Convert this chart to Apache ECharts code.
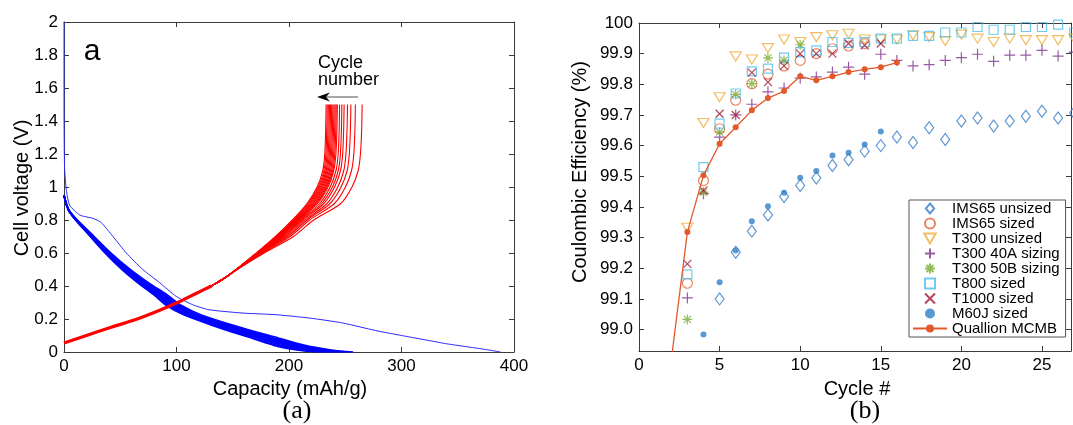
<!DOCTYPE html>
<html><head><meta charset="utf-8">
<script src="https://cdn.jsdelivr.net/npm/echarts@6/dist/echarts.min.js"></script>
<style>html,body{margin:0;padding:0;background:#fff}#c{width:1073px;height:425px}</style>
</head><body><div id="c"></div>
<script>
// ---------------- Panel (a): voltage profiles ----------------
// first cycle discharge [capacity mAh/g, voltage V]
const firstDischarge = [[0,2.0],[0,1.5],[0.5,1.12],[2.1,0.98],[5,0.89],[14,0.83],[25.7,0.81],[33,0.785],[43.5,0.70],[55.4,0.60],[70,0.50],[85,0.42],[99.7,0.337],[114.5,0.286],[129,0.256],[159,0.236],[188.5,0.226],[218,0.206],[247.6,0.176],[277,0.13],[300,0.10],[320,0.075],[340,0.05],[360,0.03],[375,0.015],[388,0]];
// later discharge cycles: voltage levels and capacity at each level per cycle
const dischargeV = [0.95,0.85,0.7,0.6,0.5,0.42,0.35,0.28,0.225,0.155,0.095,0.04,0.012,0];
const dischargeCycleCaps = [
  [0,4.7,23.3,36.4,51.3,65.3,79.3,91.5,106.4,134.4,161.5,186.7,207.2,224],
  [0,4.8,23.8,37.1,52.3,66.5,80.8,93.1,108.3,136.8,164.4,190,210.9,228],
  [0,4.8,24.2,37.7,53.2,67.7,82.2,94.7,110.2,139.2,167.2,193.3,214.6,232],
  [0,4.9,24.6,38.4,54.1,68.8,83.6,96.4,112.1,141.6,170.1,196.7,218.3,236],
  [0,5,25,39,55,70,85,98,114,144,173,200,222,240],
  [0,5.1,25.4,39.7,55.9,71.2,86.4,99.6,115.9,146.4,175.9,203.3,225.7,244],
  [0,5.2,25.8,40.3,56.8,72.3,87.8,101.3,117.8,148.8,178.8,206.7,229.4,248],
  [0,5.3,26.3,41,57.8,73.5,89.3,102.9,119.7,151.2,181.7,210,233.1,252],
  [0,5.4,26.8,41.8,58.9,75,91,104.9,122.1,154.2,185.3,214.2,237.7,257]
];
// charge cycles: common lower part, then per-cycle upper part
const chargeLowV = [0.054,0.1,0.15,0.2,0.25,0.3,0.35,0.4];
const chargeLowCap = [0,20,42,65,84,101,116,131];
const chargeHighV = [0.45,0.5,0.6,0.7,0.8,0.9,1.0,1.1,1.2,1.35,1.5];
const chargeCycleHighCaps = [
  [143,153,171,188,203,216,225,230,231.8,232.6,233],
  [143,153,171.2,188.5,203.6,216.9,226,231,232.8,233.6,234],
  [143,153.1,171.4,189,204.2,217.9,226.9,232,233.8,234.6,235],
  [143,153.1,171.7,189.5,204.8,218.8,227.9,233,234.8,235.6,236],
  [143.1,153.1,171.9,190,205.4,219.8,228.9,233.9,235.8,236.6,237],
  [143.1,153.2,172.1,190.5,206,220.7,229.8,234.9,236.8,237.6,238],
  [143.1,153.2,172.3,191,206.6,221.6,230.8,235.9,237.7,238.6,239],
  [143.1,153.2,172.5,191.5,207.2,222.6,231.8,236.9,238.7,239.6,240],
  [143.1,153.3,172.8,192,207.8,223.5,232.8,237.9,239.7,240.6,241],
  [143.1,153.3,173,192.5,208.3,224.4,233.7,238.9,240.7,241.6,242],
  [143.2,153.3,173.2,193,208.9,225.4,234.7,239.8,241.7,242.6,243],
  [143.2,153.4,173.6,194,210.1,227.3,236.6,241.8,243.7,244.6,245],
  [143.2,153.4,174.1,195,211.3,229.1,238.6,243.8,245.7,246.6,247],
  [143.3,153.5,174.5,196,212.5,231,240.5,245.8,247.7,248.6,249],
  [143.3,153.6,175.2,197.5,214.3,233.8,243.4,248.7,250.6,251.6,252],
  [143.3,153.7,175.8,199,216.1,236.6,246.3,251.7,253.6,254.6,255],
  [143.4,153.8,176.7,201,218.4,240.4,250.2,255.6,257.6,258.6,259],
  [143.5,154,178,204,222,246,256,261.5,263.5,264.6,265]
];
const capTicks = [0,100,200,300,400];
const voltTicks = [0,0.2,0.4,0.6,0.8,1,1.2,1.4,1.6,1.8,2];

// ---------------- Panel (b): coulombic efficiency ----------------
const ims65UnsizedCycles = [5,6,7,8,9,10,11,12,13,14,15,16,17,18,19,20,21,22,23,24,25,26,27];
const ims65Unsized = [99.10,99.252,99.321,99.374,99.434,99.47,99.494,99.535,99.554,99.582,99.60,99.628,99.61,99.658,99.62,99.68,99.69,99.664,99.68,99.696,99.712,99.69,99.707];
const ims65SizedCycles = [3,4,5,6,7,8,9,10,11,12,13,14];
const ims65Sized = [99.151,99.486,99.655,99.748,99.802,99.833,99.86,99.878,99.90,99.916,99.925,99.933];
const t300UnsizedCycles = [3,4,5,6,7,8,9,10,11,12,13,14,15,16,17,18,19,20,21,22,23,24,25,26,27];
const t300Unsized = [99.332,99.674,99.758,99.891,99.881,99.918,99.946,99.938,99.954,99.96,99.965,99.946,99.946,99.946,99.96,99.954,99.941,99.962,99.949,99.938,99.949,99.944,99.944,99.944,99.949];
const t300_40ACycles = [3,4,5,6,7,8,9,10,11,12,13,14,15,16,17,18,19,20,21,22,23,24,25,26,27];
const t300_40A = [99.103,99.443,99.628,99.70,99.735,99.775,99.788,99.82,99.824,99.84,99.856,99.833,99.898,99.878,99.86,99.864,99.878,99.887,99.898,99.875,99.895,99.895,99.911,99.892,99.905];
const t300_50BCycles = [3,4,5,6,7,8,9,10];
const t300_50B = [99.033,99.448,99.644,99.767,99.802,99.886,99.878,99.929];
const t800Cycles = [3,4,5,6,7,8,9,10,11,12,13,14,15,16,17,18,19,20,21,22,23,24,25,26,27];
const t800Sized = [99.18,99.53,99.672,99.77,99.842,99.851,99.887,99.905,99.911,99.938,99.935,99.938,99.949,99.949,99.958,99.958,99.969,99.969,99.987,99.978,99.978,99.987,99.987,99.995,99.969];
const t1000Cycles = [3,4,5,6,7,8,9,10,11,12,13,14,15];
const t1000Sized = [99.214,99.454,99.704,99.70,99.838,99.807,99.86,99.90,99.90,99.90,99.933,99.927,99.933];
const m60jCycles = [4,5,6,7,8,9,10,11,12,13,14,15];
const m60jSized = [98.984,99.154,99.258,99.353,99.402,99.446,99.495,99.517,99.568,99.577,99.604,99.646];
const quallionCycles = [2,3,4,5,6,7,8,9,10,11,12,13,14,15,16];
const quallion = [98.90,99.318,99.503,99.606,99.66,99.715,99.755,99.778,99.826,99.813,99.826,99.84,99.849,99.856,99.871];
const cycleTicks = [0,5,10,15,20,25];
const ceTicks = [99.0,99.1,99.2,99.3,99.4,99.5,99.6,99.7,99.8,99.9,100];

const FONT = 'Liberation Sans';
const axisCol = '#3a3a3a';
const pair = (xs, ys) => xs.map((x, i) => [x, ys[i]]);

function baseAxis(extra) {
  return Object.assign({
    type: 'value', splitLine: {show: false},
    axisLine: {show: true, onZero: false, lineStyle: {color: axisCol, width: 1}},
    axisTick: {show: true, inside: true, length: 5, lineStyle: {color: axisCol}},
    axisLabel: {color: '#000', fontSize: 17, fontFamily: FONT, margin: 6}
  }, extra);
}

const series = [];
// Panel (a) series
dischargeCycleCaps.forEach((caps) => {
  series.push({type: 'line', xAxisIndex: 0, yAxisIndex: 0, data: pair(caps, dischargeV), showSymbol: false, smooth: 0.3,
    lineStyle: {color: '#0000ff', width: 1.6}, silent: true, z: 2});
});
series.push({type: 'line', xAxisIndex: 0, yAxisIndex: 0, data: firstDischarge, showSymbol: false, smooth: 0.2,
  lineStyle: {color: '#2a2aff', width: 1}, silent: true, z: 3});
series.push({type: 'line', xAxisIndex: 0, yAxisIndex: 0, data: pair(chargeLowCap, chargeLowV), showSymbol: false, smooth: 0.3,
  lineStyle: {color: '#ff0000', width: 3.2}, silent: true, z: 4});
chargeCycleHighCaps.forEach((caps) => {
  const pts = [[chargeLowCap[chargeLowCap.length - 1], chargeLowV[chargeLowV.length - 1]]].concat(pair(caps, chargeHighV));
  series.push({type: 'line', xAxisIndex: 0, yAxisIndex: 0, data: pts, showSymbol: false, smooth: 0.3,
    lineStyle: {color: '#ff0000', width: 1.1}, silent: true, z: 4});
});

// Panel (b) series
const none = 'rgba(255,255,255,0)';
const SYM_DIAMOND = 'path://M5,0L10,6L5,12L0,6Z';
const SYM_TRI_DOWN = 'path://M0,0L10,0L5,8.7Z';
const SYM_SQUARE = 'path://M0,0L10,0L10,10L0,10Z';
const SYM_PLUS = 'path://M5,0L5,10M0,5L10,5';
const SYM_STAR = 'path://M5,0L5,10M0,5L10,5M1.5,1.5L8.5,8.5M8.5,1.5L1.5,8.5';
const SYM_X = 'path://M0,0L10,10M10,0L0,10';
function sc(name, xs, ys, symbol, size, col, extra) {
  return Object.assign({name, type: 'scatter', xAxisIndex: 2, yAxisIndex: 2, data: pair(xs, ys), symbol, symbolSize: size, clip: false,
    itemStyle: {color: none, borderColor: col, borderWidth: 1.2}}, extra || {});
}
series.push(sc('IMS65 unsized', ims65UnsizedCycles, ims65Unsized, SYM_DIAMOND, [9, 12], '#3a7cc4'));
series.push(sc('IMS65 sized', ims65SizedCycles, ims65Sized, 'circle', 10, '#e0673c'));
series.push(sc('T300 unsized', t300UnsizedCycles, t300Unsized, SYM_TRI_DOWN, [11, 9], '#eeae3c'));
series.push(sc('T300 40A sizing', t300_40ACycles, t300_40A, SYM_PLUS, 11, '#7e2f8e'));
series.push(sc('T300 50B sizing', t300_50BCycles, t300_50B, SYM_STAR, 10, '#77ac30'));
series.push(sc('T800 sized', t800Cycles, t800Sized, SYM_SQUARE, 9, '#4dbeee'));
series.push(sc('T1000 sized', t1000Cycles, t1000Sized, SYM_X, 8, '#a2142f'));
series.push(sc('M60J sized', m60jCycles, m60jSized, 'circle', 6, '#0072bd', {itemStyle: {color: '#2f7fc8', borderWidth: 0}}));
series.push({name: 'Quallion MCMB', type: 'line', xAxisIndex: 2, yAxisIndex: 2, data: pair(quallionCycles, quallion),
  symbol: 'circle', symbolSize: 6, showSymbol: true, clip: true,
  lineStyle: {color: '#e2592c', width: 1.3}, itemStyle: {color: '#e2592c'}, z: 5});

const chart = echarts.init(document.getElementById('c'), null, {renderer: 'canvas'});
chart.setOption({
  animation: false,
  backgroundColor: '#fff',
  grid: [
    {left: 64, top: 22, width: 450, height: 330},
    {left: 639, top: 23, width: 432, height: 328}
  ],
  xAxis: [
    baseAxis({gridIndex: 0, min: capTicks[0], max: capTicks[capTicks.length - 1], interval: 100, position: 'bottom'}),
    baseAxis({gridIndex: 0, min: capTicks[0], max: capTicks[capTicks.length - 1], interval: 100, position: 'top', axisLabel: {show: false}}),
    baseAxis({gridIndex: 1, min: 0, max: 26.8, position: 'bottom',
      axisTick: {show: true, inside: true, length: 5, lineStyle: {color: axisCol}, customValues: cycleTicks},
      axisLabel: {color: '#000', fontSize: 17, fontFamily: FONT, margin: 6, customValues: cycleTicks}}),
    baseAxis({gridIndex: 1, min: 0, max: 26.8, position: 'top',
      axisTick: {show: true, inside: true, length: 5, lineStyle: {color: axisCol}, customValues: cycleTicks},
      axisLabel: {show: false}})
  ],
  yAxis: [
    baseAxis({gridIndex: 0, min: voltTicks[0], max: voltTicks[voltTicks.length - 1], interval: 0.2, position: 'left'}),
    baseAxis({gridIndex: 0, min: voltTicks[0], max: voltTicks[voltTicks.length - 1], interval: 0.2, position: 'right', axisLabel: {show: false}}),
    baseAxis({gridIndex: 1, min: 98.93, max: 100, position: 'left',
      axisTick: {show: true, inside: true, length: 5, lineStyle: {color: axisCol}, customValues: ceTicks},
      axisLabel: {color: '#000', fontSize: 17, fontFamily: FONT, margin: 6, customValues: ceTicks,
        formatter: v => (Math.abs(v - 100) < 1e-6 ? '100' : v.toFixed(1))}}),
    baseAxis({gridIndex: 1, min: 98.93, max: 100, position: 'right',
      axisTick: {show: true, inside: true, length: 5, lineStyle: {color: axisCol}, customValues: ceTicks},
      axisLabel: {show: false}})
  ],
  legend: {
    data: ['IMS65 unsized', 'IMS65 sized', 'T300 unsized', 'T300 40A sizing', 'T300 50B sizing', 'T800 sized', 'T1000 sized', 'M60J sized', 'Quallion MCMB'],
    orient: 'vertical', left: 909, top: 200, padding: [1, 6, 1, 3], itemGap: 0, itemWidth: 34, itemHeight: 10,
    symbolKeepAspect: true,
    borderColor: '#555', borderWidth: 1, backgroundColor: '#fff',
    textStyle: {fontSize: 15, fontFamily: FONT, color: '#000', lineHeight: 15}
  },
  graphic: [
    {type: 'text', x: 22, y: 188, rotation: Math.PI / 2, style: {text: 'Cell voltage (V)', fontSize: 20, fontFamily: FONT, fill: '#000', align: 'center', verticalAlign: 'middle'}},
    {type: 'text', x: 290, y: 389, style: {text: 'Capacity (mAh/g)', fontSize: 20, fontFamily: FONT, fill: '#000', align: 'center', verticalAlign: 'middle'}},
    {type: 'text', x: 297, y: 411, style: {text: '(a)', fontSize: 26, fontFamily: 'Liberation Serif', fill: '#000', align: 'center', verticalAlign: 'middle'}},
    {type: 'text', x: 92, y: 52, style: {text: 'a', fontSize: 30, fontFamily: FONT, fill: '#000', align: 'center', verticalAlign: 'middle'}},
    {type: 'text', x: 318, y: 63, style: {text: 'Cycle', fontSize: 18, fontFamily: FONT, fill: '#000', align: 'left', verticalAlign: 'middle'}},
    {type: 'text', x: 318, y: 80, style: {text: 'number', fontSize: 18, fontFamily: FONT, fill: '#000', align: 'left', verticalAlign: 'middle'}},
    {type: 'line', shape: {x1: 358, y1: 97, x2: 326, y2: 97}, style: {stroke: '#8a8a8a', lineWidth: 1.5}},
    {type: 'polygon', shape: {points: [[317, 97], [330, 92.5], [326, 97], [330, 101.5]]}, style: {fill: '#000'}},
    {type: 'text', x: 580, y: 172, rotation: Math.PI / 2, style: {text: 'Coulombic Efficiency (%)', fontSize: 20, fontFamily: FONT, fill: '#000', align: 'center', verticalAlign: 'middle'}},
    {type: 'text', x: 857, y: 389, style: {text: 'Cycle #', fontSize: 20, fontFamily: FONT, fill: '#000', align: 'center', verticalAlign: 'middle'}},
    {type: 'text', x: 865, y: 411, style: {text: '(b)', fontSize: 26, fontFamily: 'Liberation Serif', fill: '#000', align: 'center', verticalAlign: 'middle'}}
  ],
  series
});
</script>
</body></html>
